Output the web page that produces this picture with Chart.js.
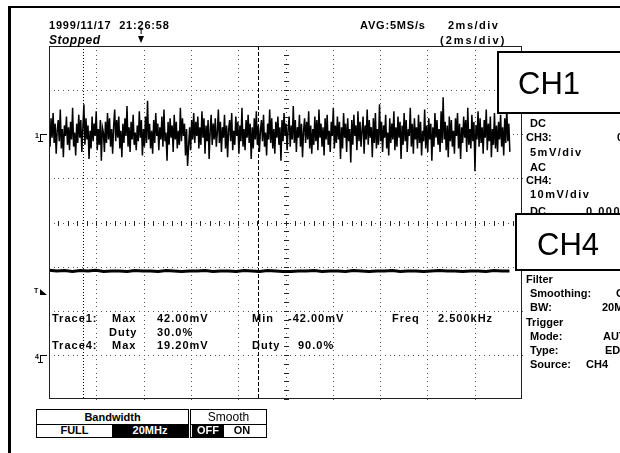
<!DOCTYPE html>
<html lang="en">
<head>
<meta charset="UTF-8">
<title>Scope CH1 / CH4</title>
<style>
  html, body { margin: 0; padding: 0; background: #fff; }
  body { width: 620px; height: 453px; overflow: hidden; position: relative;
         font-family: "Liberation Sans", Arial, sans-serif; color: #000; }
  #scope { position: absolute; left: 0; top: 0; }
  .t { position: absolute; font-size: 11px; font-weight: bold; line-height: 12px; white-space: nowrap; }
  .m { letter-spacing: 1px; }
  .frameTop { position: absolute; left: 8px; top: 6px; width: 612px; height: 2px; background: #000; }
  .frameLeft { position: absolute; left: 8px; top: 6px; width: 3px; height: 447px; background: #000; }
  .chbox { position: absolute; background: #fff; border: 2px solid #000; box-sizing: border-box;
           font-size: 31px; font-weight: normal; line-height: 31px; }
  .menu { position: absolute; border: 1px solid #000; box-sizing: border-box; background: #fff; }
  .menu .top { position: absolute; left: 0; right: 0; top: 0; height: 14px; border-bottom: 1px solid #000;
               text-align: center; font-size: 11px; font-weight: bold; line-height: 14px; }
  .menu .cell { position: absolute; top: 14px; height: 13px; text-align: center;
                font-size: 11px; font-weight: bold; line-height: 13px; }
  .inv { background: #000; color: #fff; }
  .tiny { position: absolute; font-size: 7px; font-weight: bold; line-height: 7px; }
</style>
</head>
<body>

<canvas id="scope" width="620" height="453"></canvas>

<div class="frameTop"></div>
<div class="frameLeft"></div>

<!-- header -->
<div class="t" style="left:49px;top:19px;letter-spacing:0.8px;">1999/11/17&nbsp;&nbsp;21:26:58</div>
<div class="t" style="left:49px;top:34px;font-style:italic;font-size:12px;letter-spacing:0.5px;">Stopped</div>
<div class="t" style="left:360px;top:19px;letter-spacing:0.8px;">AVG:5MS/s</div>
<div class="t" style="left:448px;top:19px;letter-spacing:1.5px;">2ms/div</div>
<div class="t" style="left:440px;top:34px;letter-spacing:2px;">(2ms/div)</div>

<!-- trigger position marker -->
<div class="tiny" style="left:139px;top:28px;">T</div>
<div style="position:absolute;left:138px;top:36px;width:0;height:0;border-left:3px solid transparent;border-right:3px solid transparent;border-top:7px solid #000;"></div>

<!-- left markers -->
<div class="tiny" style="left:35px;top:132px;">1</div>
<div style="position:absolute;left:40px;top:134px;width:6px;height:6px;border-left:1px solid #000;border-top:1px solid #000;"></div>
<div style="position:absolute;left:38px;top:141px;width:5px;height:0;border-top:1px solid #000;"></div>
<div class="tiny" style="left:34px;top:287px;">T</div>
<div style="position:absolute;left:40px;top:289px;width:0;height:0;border-top:6px solid transparent;border-left:7px solid #000;"></div>
<div class="tiny" style="left:35px;top:353px;">4</div>
<div style="position:absolute;left:40px;top:355px;width:6px;height:6px;border-left:1px solid #000;border-top:1px solid #000;"></div>
<div style="position:absolute;left:38px;top:362px;width:5px;height:0;border-top:1px solid #000;"></div>

<!-- right panel -->
<div class="t" style="left:530px;top:117px;">DC</div>
<div class="t" style="left:526px;top:131px;">CH3:</div>
<div class="t" style="left:617px;top:131px;">0.000V</div>
<div class="t" style="left:530px;top:146px;letter-spacing:1.5px;">5mV/div</div>
<div class="t" style="left:530px;top:161px;">AC</div>
<div class="t" style="left:526px;top:174px;">CH4:</div>
<div class="t" style="left:530px;top:188px;letter-spacing:1.5px;">10mV/div</div>
<div class="t" style="left:530px;top:205px;">DC</div>
<div class="t" style="left:586px;top:205px;letter-spacing:1.5px;">0.000V</div>
<div class="t" style="left:526px;top:273px;">Filter</div>
<div class="t" style="left:530px;top:287px;">Smoothing:</div>
<div class="t" style="left:616px;top:287px;">OFF</div>
<div class="t" style="left:530px;top:301px;">BW:</div>
<div class="t" style="left:602px;top:301px;">20MHz</div>
<div class="t" style="left:526px;top:316px;">Trigger</div>
<div class="t" style="left:530px;top:330px;">Mode:</div>
<div class="t" style="left:603px;top:330px;">AUTO</div>
<div class="t" style="left:530px;top:344px;">Type:</div>
<div class="t" style="left:605px;top:344px;">EDGE</div>
<div class="t" style="left:530px;top:358px;">Source:</div>
<div class="t" style="left:586px;top:358px;">CH4</div>

<div class="chbox" style="left:497px;top:51px;width:130px;height:63px;"><span style="position:absolute;left:19px;top:15px;">CH1</span></div>
<div class="chbox" style="left:515px;top:213px;width:112px;height:58px;"><span style="position:absolute;left:20px;top:14px;">CH4</span></div>

<!-- measurements -->
<div class="t m" style="left:52px;top:312px;">Trace1:</div>
<div class="t m" style="left:112px;top:312px;">Max</div>
<div class="t m" style="left:157px;top:312px;">42.00mV</div>
<div class="t m" style="left:252px;top:312px;">Min</div>
<div class="t m" style="left:288px;top:312px;">-42.00mV</div>
<div class="t m" style="left:392px;top:312px;">Freq</div>
<div class="t m" style="left:438px;top:312px;">2.500kHz</div>
<div class="t m" style="left:109px;top:326px;">Duty</div>
<div class="t m" style="left:157px;top:326px;">30.0%</div>
<div class="t m" style="left:52px;top:339px;">Trace4:</div>
<div class="t m" style="left:112px;top:339px;">Max</div>
<div class="t m" style="left:157px;top:339px;">19.20mV</div>
<div class="t m" style="left:252px;top:339px;">Duty</div>
<div class="t m" style="left:298px;top:339px;">90.0%</div>

<!-- soft-key menu -->
<div class="menu" style="left:36px;top:409px;width:153px;height:29px;">
  <div class="top">Bandwidth</div>
  <div class="cell" style="left:0;width:75px;">FULL</div>
  <div class="cell inv" style="left:75px;width:76px;">20MHz</div>
</div>
<div class="menu" style="left:190px;top:409px;width:77px;height:29px;">
  <div class="top" style="font-weight:normal;font-size:12px;">Smooth</div>
  <div class="cell inv" style="left:1px;width:32px;">OFF</div>
  <div class="cell" style="left:33px;width:36px;">ON</div>
</div>

<script src="https://cdn.jsdelivr.net/npm/chart.js"></script>
<script>
// scope settings
const timePerDiv = 2;        // ms/div
const ch1VoltsPerDiv = 50;   // mV/div
const ch4VoltsPerDiv = 10;   // mV/div
const ch1Ground = 2.0;       // div above screen centre
const ch4Ground = -3.0;      // div above screen centre
const cursorTimes = [1.44, 8.84]; // ms
const ch1Dt = 0.0434;        // ms between CH1 samples
const ch4Dt = 0.33;          // ms between CH4 samples

// CH1 samples, mV
const ch1Values = [
  6,-14,18,-4,24,-10,12,-22,4,16,-8,28,-16,6,-26,10,-2,20,-12,8,
  -18,14,-6,30,-14,2,-24,12,-10,22,-4,16,-20,8,34,-12,18,-6,10,-28,
  4,-16,20,-8,12,-2,26,-18,6,-12,16,-30,8,2,-20,14,-10,24,-6,18,
  -14,6,-22,10,28,-8,16,-4,20,-16,4,-26,12,-10,18,-2,32,-14,8,-20,
  14,-6,22,-12,2,-18,10,-8,26,-4,16,-24,6,-14,20,-10,38,-6,12,-16,
  4,-22,16,-10,24,-2,12,-18,8,-6,20,-14,28,-8,2,-30,14,-12,18,-4,
  10,-20,22,-6,14,-16,4,-12,30,-8,18,-2,12,-24,6,-36,-14,8,-18,16,
  -6,24,-10,14,-2,20,-16,8,-12,26,-4,18,-22,10,-8,16,-28,4,22,-12,
  12,-6,18,-14,2,28,-10,14,-20,8,-4,22,-16,10,-26,6,16,-8,24,-18,
  4,-12,20,-2,14,-22,10,-8,30,-14,6,-18,16,-4,22,-10,12,-28,8,-16,
  18,-6,26,-12,10,-20,4,16,-8,22,-14,2,-24,12,-6,28,-10,18,-16,6,
  -22,14,-4,20,-12,8,-30,16,-8,24,-2,12,-18,6,20,-14,10,-6,32,-10,
  16,-20,8,-4,22,-14,12,-26,4,18,-10,14,-6,26,-16,10,-22,6,-12,20,
  -8,16,-18,28,-4,12,-14,8,-24,18,-6,22,-12,4,-20,14,-2,30,-16,10,
  -10,20,-6,14,-28,8,-16,24,-4,12,-20,18,-8,6,-32,16,-12,22,-2,10,
  -18,26,-8,14,-14,4,20,-22,10,-6,28,-12,16,-4,8,-26,18,-10,24,-16,
  6,-12,34,-8,14,-20,10,-4,22,-16,2,-24,18,-10,12,-6,26,-18,8,-14,
  20,-4,14,-28,10,-12,24,-8,16,-20,6,-2,30,-14,12,-22,18,-6,8,-16,
  22,-10,14,-24,4,-8,28,-16,10,-20,18,-6,12,-30,8,-14,24,-4,16,-12,
  6,-20,26,-10,42,-6,14,-18,10,-26,20,-8,16,-14,4,-22,18,-2,24,-16,
  12,-28,8,-10,20,-4,16,-20,30,-12,6,-16,22,-8,14,-42,10,-6,26,-14,
  18,-10,8,-22,16,-4,28,-18,12,-8,20,-26,6,-12,24,-16,10,-20,14,-6,
  22,-14,8,-24,18,-10,30,-8,12,-20
];

// CH4 samples, mV
const ch4Values = [
  19.2,19.0,19.1,18.9,19.1,19.0,19.2,18.9,19.0,19.0,
  18.9,19.1,19.0,19.0,18.9,19.1,19.0,18.9,19.0,19.0,
  19.1,18.9,19.0,19.0,18.9,19.1,19.0,18.9,19.1,19.0,
  18.9,18.9,19.0,19.0,19.1,18.9,19.0,19.0,18.9,19.1,
  19.0,18.9,19.0,19.0,19.1,18.9,19.0,19.0,18.9,19.0,
  19.1,19.0,19.0,18.9,19.0,19.0,18.9,19.1,19.0,19.0
];

const ch1Data = ch1Values.map((v, i) => ({ x: i * ch1Dt, y: v }));
const ch4Data = ch4Values.map((v, i) => ({ x: i * ch4Dt, y: v }));

const graticulePlugin = {
  id: 'graticule',
  beforeDatasetsDraw: (chart) => {
    const ctx = chart.ctx;
    const a = chart.chartArea;
    const xs = chart.scales.x;
    const ys = chart.scales.y;
    ctx.save();
    ctx.fillStyle = '#555';
    // dotted divisions, a dot every 0.1 div
    for (let k = 1; k < 10; k++) {
      const x = Math.round(xs.getPixelForValue(k * timePerDiv));
      for (let j = 0; j <= 80; j++) {
        ctx.fillRect(x, Math.round(ys.getPixelForValue(-4 + j * 0.1)), 1, 1);
      }
    }
    for (let k = -3; k <= 3; k++) {
      const y = Math.round(ys.getPixelForValue(k));
      for (let j = 0; j <= 100; j++) {
        ctx.fillRect(Math.round(xs.getPixelForValue(j * 0.1 * timePerDiv)), y, 1, 1);
      }
    }
    // centre axes with minor ticks
    ctx.fillStyle = '#222';
    const cx = Math.round(xs.getPixelForValue(5 * timePerDiv));
    const cy = Math.round(ys.getPixelForValue(0));
    for (let j = 0; j <= 40; j++) {
      const y = Math.round(ys.getPixelForValue(-4 + j * 0.2));
      ctx.fillRect(cx - 2, y, 5, 1);
    }
    for (let j = 0; j <= 50; j++) {
      const x = Math.round(xs.getPixelForValue(j * 0.2 * timePerDiv));
      ctx.fillRect(x, cy - 2, 1, 5);
    }
    // cursors
    ctx.strokeStyle = '#000';
    ctx.lineWidth = 1;
    cursorTimes.forEach((t, i) => {
      const x = Math.round(xs.getPixelForValue(t)) + 0.5;
      ctx.setLineDash(i === 0 ? [1, 2] : [4, 2]);
      ctx.beginPath();
      ctx.moveTo(x, a.top);
      ctx.lineTo(x, a.bottom);
      ctx.stroke();
    });
    ctx.restore();
  },
  afterDatasetsDraw: (chart) => {
    const ctx = chart.ctx;
    const a = chart.chartArea;
    ctx.save();
    ctx.strokeStyle = '#222';
    ctx.lineWidth = 1;
    ctx.strokeRect(a.left + 0.5, a.top + 0.5, a.right - a.left - 1, a.bottom - a.top - 1);
    ctx.restore();
  }
};

new Chart(document.getElementById('scope').getContext('2d'), {
  type: 'line',
  data: {
    datasets: [
      {
        label: 'CH1',
        data: ch1Data,
        yAxisID: 'y1',
        borderColor: '#000',
        borderWidth: 1.5,
        pointRadius: 0,
        tension: 0,
        fill: false
      },
      {
        label: 'CH4',
        data: ch4Data,
        yAxisID: 'y4',
        borderColor: '#000',
        borderWidth: 3,
        pointRadius: 0,
        tension: 0,
        fill: false
      }
    ]
  },
  options: {
    responsive: false,
    animation: false,
    devicePixelRatio: 1,
    layout: { padding: { left: 49, top: 46, right: 98, bottom: 54 } },
    plugins: { legend: { display: false }, tooltip: { enabled: false } },
    scales: {
      x: { type: 'linear', min: 0, max: 10 * timePerDiv, display: false },
      y: { type: 'linear', min: -4, max: 4, display: false },
      y1: { type: 'linear', display: false,
            min: (-4 - ch1Ground) * ch1VoltsPerDiv, max: (4 - ch1Ground) * ch1VoltsPerDiv },
      y4: { type: 'linear', display: false,
            min: (-4 - ch4Ground) * ch4VoltsPerDiv, max: (4 - ch4Ground) * ch4VoltsPerDiv }
    }
  },
  plugins: [graticulePlugin]
});
</script>
</body>
</html>
